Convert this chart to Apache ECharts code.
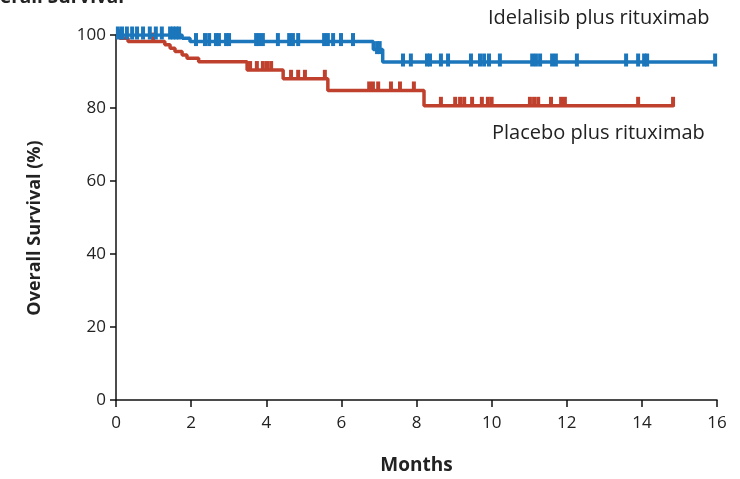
<!DOCTYPE html>
<html>
<head>
<meta charset="utf-8">
<script src="https://cdn.jsdelivr.net/npm/echarts@6/dist/echarts.min.js"></script>
<style>html,body{margin:0;padding:0;background:#fff}#c{width:740px;height:479px}</style>
</head>
<body>
<div id="c"></div>
<script>
// Kaplan-Meier step data (months, %)
var blueTimes  = [0, 1.76, 1.97, 6.85, 7.1, 16];
var blueValues = [100, 99.1, 98.2, 96.0, 92.6, 92.6];
var redTimes   = [0, 0.1, 0.32, 1.3, 1.44, 1.57, 1.76, 1.89, 2.2, 3.49, 4.45, 5.64, 8.2, 14.85];
var redValues  = [100, 99.1, 98.2, 97.3, 96.4, 95.5, 94.5, 93.6, 92.7, 90.4, 88.0, 84.8, 80.6, 80.6];
// censoring times
var blueCensor = [0.05, 0.16, 0.29, 0.43, 0.56, 0.72, 0.9, 1.06, 1.22, 1.44, 1.52, 1.6, 1.68,
  2.13, 2.37, 2.48, 2.66, 2.74, 2.93, 3.01, 3.73, 3.81, 3.91, 4.31, 4.61, 4.71, 4.85,
  5.54, 5.64, 5.78, 5.99, 6.31, 6.95, 7.02, 7.64, 7.85, 8.28, 8.36, 8.65, 8.84,
  9.45, 9.69, 9.8, 9.93, 10.22, 11.08, 11.18, 11.29, 11.61, 11.71, 12.27,
  13.58, 13.9, 14.06, 14.14, 15.95];
var redCensor = [0.13, 0.99, 3.57, 3.75, 3.91, 4.02, 4.13, 4.66, 4.85, 5.03, 5.56,
  6.74, 6.84, 6.98, 7.32, 7.56, 7.93, 8.65, 9.03, 9.16, 9.27, 9.48, 9.74, 9.9, 10.0,
  11.02, 11.13, 11.24, 11.58, 11.85, 11.95, 13.9, 14.83];
var xTicks = [0, 2, 4, 6, 8, 10, 12, 14, 16];
var yTicks = [0, 20, 40, 60, 80, 100];
var labelBlue = 'Idelalisib plus rituximab';
var labelRed = 'Placebo plus rituximab';

function pairs(t, v) { return t.map(function (x, i) { return [x, v[i]]; }); }
function valueAt(t, v, x) {
  var y = v[0];
  for (var i = 0; i < t.length; i++) { if (t[i] <= x) y = v[i]; }
  return y;
}
function censorPts(c, t, v) { return c.map(function (x) { return [x, valueAt(t, v, x)]; }); }

var BLUE = '#1b76bb', RED = '#c0402e';
var FONT = '"Open Sans", "Noto Sans", sans-serif';
var chart = echarts.init(document.getElementById('c'), null, {renderer: 'canvas'});
chart.setOption({
  animation: false,
  grid: {left: 116, right: 23, top: 35, bottom: 79, containLabel: false, outerBoundsMode: 'none'},
  xAxis: {
    type: 'value', min: 0, max: 16, interval: 2,
    name: 'Months', nameLocation: 'middle', nameGap: 56,
    nameTextStyle: {fontFamily: FONT, fontWeight: 'bold', fontSize: 19, color: '#222'},
    axisLine: {lineStyle: {color: '#111', width: 1.5}},
    axisTick: {length: 7, lineStyle: {color: '#111', width: 1.5}},
    axisLabel: {fontFamily: FONT, fontSize: 17, color: '#222', margin: 15,
      formatter: function (v) { return xTicks.indexOf(v) >= 0 ? String(v) : ''; }},
    splitLine: {show: false}
  },
  yAxis: {
    type: 'value', min: 0, max: 100, interval: 20,
    axisLine: {show: true, lineStyle: {color: '#111', width: 1.5}},
    axisTick: {show: true, length: 6, lineStyle: {color: '#111', width: 1.5}},
    axisLabel: {fontFamily: FONT, fontSize: 17, color: '#222', margin: 10,
      formatter: function (v) { return yTicks.indexOf(v) >= 0 ? String(v) : ''; }},
    splitLine: {show: false}
  },
  graphic: [
    {type: 'text', left: -26, top: -12, style: {text: 'Overall Survival', font: 'bold 19px ' + FONT, fill: '#222'}},
    {type: 'text', x: 35, y: 228, rotation: Math.PI / 2,
      style: {text: 'Overall Survival (%)', font: 'bold 18px ' + FONT, fill: '#222', align: 'center', verticalAlign: 'middle'}},
    {type: 'text', left: 488, top: 8, style: {text: labelBlue, font: '20px ' + FONT, fill: '#222'}},
    {type: 'text', left: 492, top: 123, style: {text: labelRed, font: '20px ' + FONT, fill: '#222'}}
  ],
  series: [
    {type: 'line', step: 'end', data: pairs(redTimes, redValues), showSymbol: false,
      lineStyle: {color: RED, width: 3.5}, z: 2},
    {type: 'line', step: 'end', data: pairs(blueTimes, blueValues), showSymbol: false,
      lineStyle: {color: BLUE, width: 3.5}, z: 3},
    {type: 'scatter', data: censorPts(redCensor, redTimes, redValues), symbol: 'rect',
      symbolSize: [4, 10], symbolOffset: [0, -4], itemStyle: {color: RED, opacity: 1}, z: 2},
    {type: 'scatter', data: censorPts(blueCensor, blueTimes, blueValues), symbol: 'rect',
      symbolSize: [4, 13], symbolOffset: [0, -2], itemStyle: {color: BLUE, opacity: 1}, z: 3}
  ]
});
</script>
</body>
</html>
